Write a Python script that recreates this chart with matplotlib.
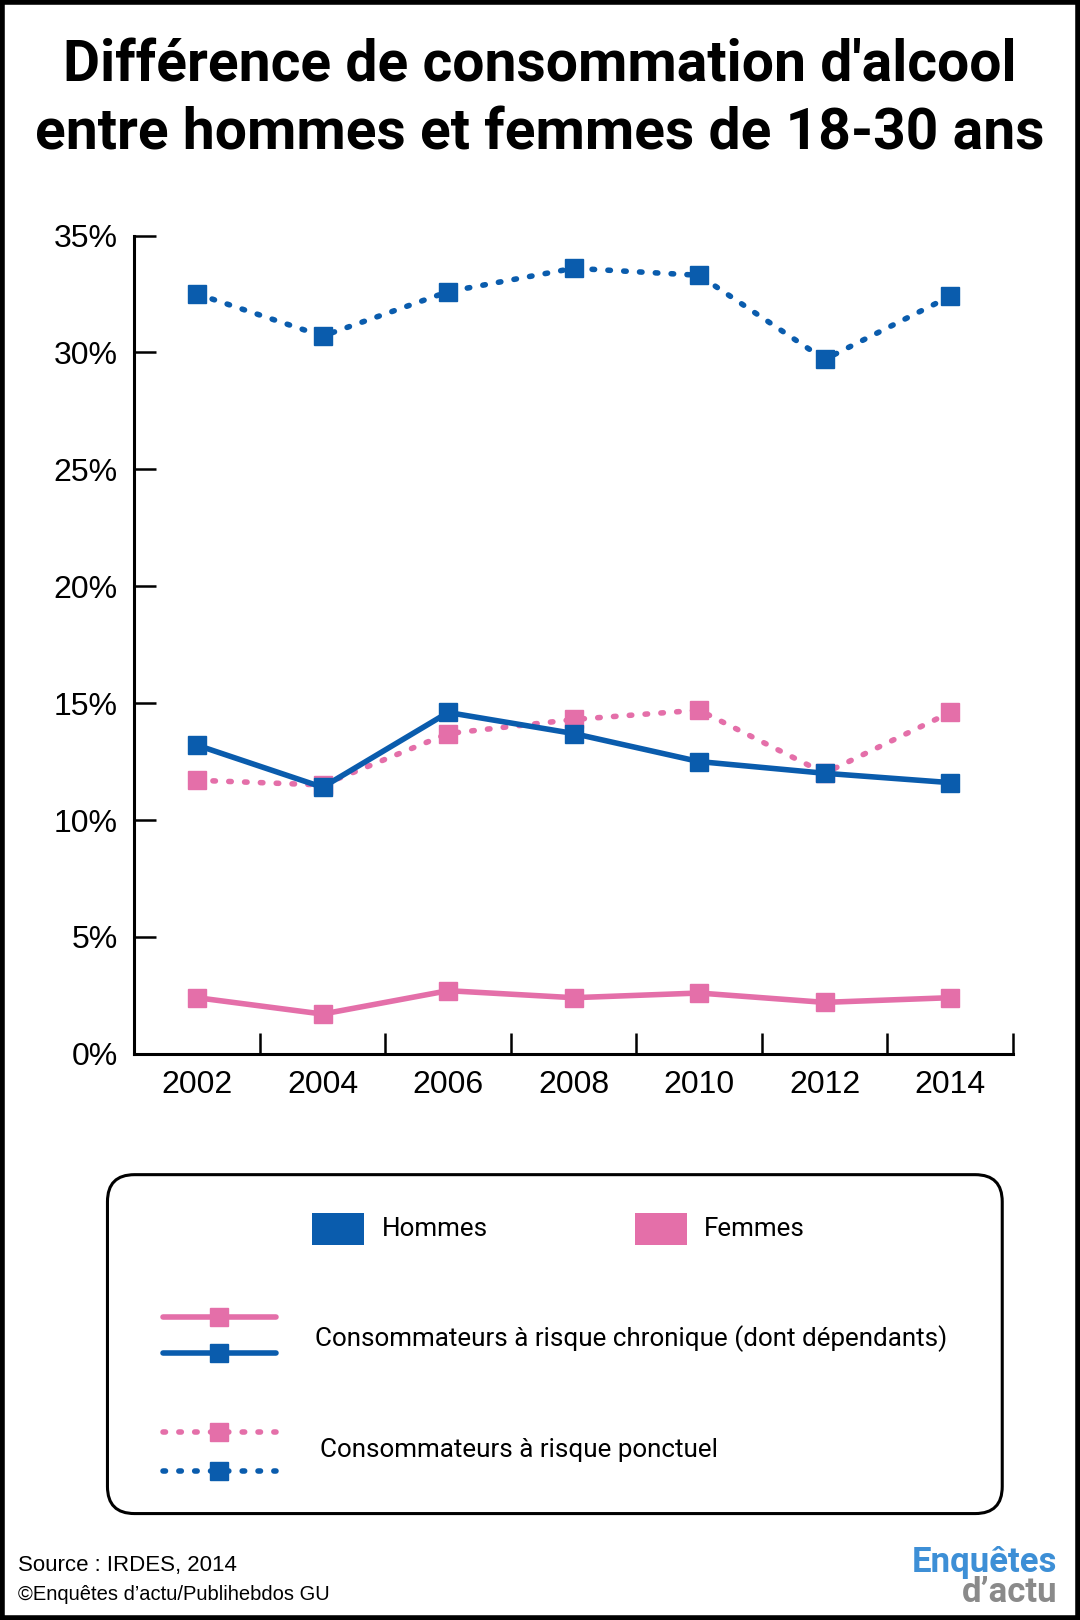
import matplotlib
matplotlib.use("Agg")
import matplotlib.pyplot as plt
from matplotlib.lines import Line2D
from matplotlib.patches import FancyBboxPatch, Rectangle

years = [2002, 2004, 2006, 2008, 2010, 2012, 2014]
hommes_ponctuel = [32.5, 30.7, 32.6, 33.6, 33.3, 29.7, 32.4]
hommes_chronique = [13.2, 11.4, 14.6, 13.7, 12.5, 12.0, 11.6]
femmes_ponctuel = [11.7, 11.5, 13.7, 14.3, 14.7, 12.0, 14.6]
femmes_chronique = [2.4, 1.7, 2.7, 2.4, 2.6, 2.2, 2.4]
y_ticks = [0, 5, 10, 15, 20, 25, 30, 35]
y_labels = [f"{v}%" for v in y_ticks]

BLUE = "#0A5CAD"
PINK = "#E46FA9"
LOGO_BLUE = "#3D8FD6"

title = "Différence de consommation d'alcool\nentre hommes et femmes de 18-30 ans"
legend_groups = ["Hommes", "Femmes"]
legend_styles = ["Consommateurs à risque chronique (dont dépendants)",
                 "Consommateurs à risque ponctuel"]

plt.rcParams['font.family'] = ['Liberation Sans', 'DejaVu Sans']
NARROW = ['Roboto', 'Liberation Sans', 'DejaVu Sans']

fig = plt.figure(figsize=(10.8, 16.2), dpi=100)
fig.patch.set_facecolor("white")

fig.text(0.5, 0.938, title, ha="center", va="center", fontsize=41,
         fontweight="bold", family=NARROW, linespacing=1.3)

ax = fig.add_axes([0.1244, 0.3495, 0.8134, 0.5051])
dot = (0, (0.45, 2.4))
lw = 4.0
ms = 13.5
ax.plot(years, hommes_ponctuel, color=BLUE, lw=lw, ls=dot, dash_capstyle="round",
        marker="s", ms=ms, zorder=3)
ax.plot(years, femmes_ponctuel, color=PINK, lw=lw, ls=dot, dash_capstyle="round",
        marker="s", ms=ms, zorder=3)
ax.plot(years, hommes_chronique, color=BLUE, lw=lw, ls="-",
        marker="s", ms=ms, zorder=4)
ax.plot(years, femmes_chronique, color=PINK, lw=lw, ls="-",
        marker="s", ms=ms, zorder=4)

ax.set_xlim(2001, 2015)
ax.set_ylim(0, 35)
for s in ["top", "right"]:
    ax.spines[s].set_visible(False)
for s in ["left", "bottom"]:
    ax.spines[s].set_linewidth(2.2)
ax.set_yticks(y_ticks)
ax.set_yticklabels(y_labels)
ax.set_xticks([y + 1 for y in years])
ax.set_xticklabels([])
ax.set_xticks(years, minor=True)
ax.set_xticklabels([str(y) for y in years], minor=True)
ax.tick_params(axis="x", which="major", direction="in", length=15, width=1.8)
ax.tick_params(axis="x", which="minor", length=0, labelsize=23, pad=12)
ax.tick_params(axis="y", direction="in", length=16, width=1.8, labelsize=23, pad=12)

# legend box
fig.patches.append(FancyBboxPatch((0.0995, 0.0657), 0.8285, 0.2092,
                                  boxstyle="round,pad=0,rounding_size=0.025",
                                  transform=fig.transFigure, fill=False,
                                  edgecolor="black", lw=2.2,
                                  mutation_aspect=1080 / 1620))
fig.patches.append(Rectangle((0.289, 0.2313), 0.048, 0.0198, transform=fig.transFigure,
                             facecolor=BLUE, edgecolor="none"))
fig.text(0.354, 0.2412, legend_groups[0], fontsize=18.7, va="center", family=NARROW)
fig.patches.append(Rectangle((0.5875, 0.2313), 0.0488, 0.0198, transform=fig.transFigure,
                             facecolor=PINK, edgecolor="none"))
fig.text(0.652, 0.2412, legend_groups[1], fontsize=18.7, va="center", family=NARROW)

def swatch(y, color, ls):
    l = Line2D([0.151, 0.256], [y, y], transform=fig.transFigure, color=color, lw=lw,
               ls=ls, dash_capstyle="round", solid_capstyle="round")
    m = Line2D([0.203], [y], transform=fig.transFigure, color=color, marker="s", ms=ms,
               ls="none")
    fig.lines.extend([l, m])

swatch(1 - 1275 / 1568, PINK, "-")
swatch(1 - 1310 / 1568, BLUE, "-")
swatch(1 - 1386 / 1568, PINK, dot)
swatch(1 - 1424 / 1568, BLUE, dot)
fig.text(0.292, 1 - 1296 / 1568, legend_styles[0], fontsize=18.7, va="center", family=NARROW)
fig.text(0.296, 1 - 1403 / 1568, legend_styles[1], fontsize=18.7, va="center", family=NARROW)

# footer
fig.text(0.017, 1 - 1515 / 1568, "Source : IRDES, 2014", fontsize=16, va="center")
fig.text(0.017, 1 - 1543 / 1568, "©Enquêtes d\u2019actu/Publihebdos GU", fontsize=14.5, va="center")
fig.text(0.979, 1 - 1512 / 1568, "Enquêtes", fontsize=25, fontweight="bold", color=LOGO_BLUE,
         ha="right", va="center", family=NARROW)
fig.text(0.979, 1 - 1541 / 1568, "d\u2019actu", fontsize=25, fontweight="bold", color="#8a8a8a",
         ha="right", va="center", family=NARROW)

# outer frame
fig.patches.append(Rectangle((0.0015, 0.001), 0.997, 0.998, transform=fig.transFigure,
                             fill=False, edgecolor="black", lw=4))

fig.savefig("out.png", dpi=100, facecolor="white")
